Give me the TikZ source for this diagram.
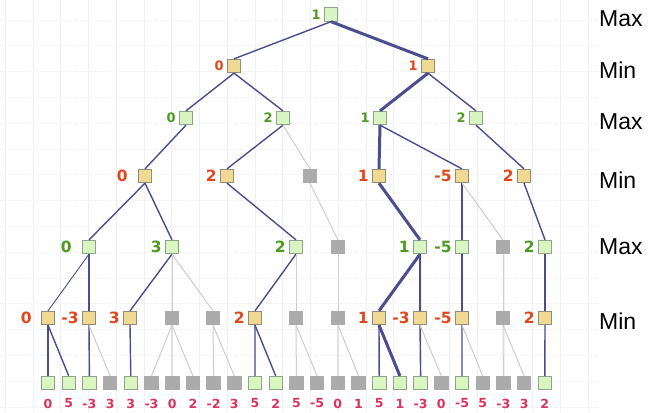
\documentclass[tikz,border=0pt]{standalone}
\usepackage{fontspec}
\newfontfamily\valfont{DejaVu Sans}
\newfontfamily\lvlfont{Liberation Sans}
\definecolor{edgeblue}{HTML}{4A4E8E}
\definecolor{edgegray}{HTML}{CDCDCD}
\definecolor{maxfill}{HTML}{D9F5C2}
\definecolor{maxdraw}{HTML}{8FA58A}
\definecolor{minfill}{HTML}{F0D992}
\definecolor{mindraw}{HTML}{938C7A}
\definecolor{cutfill}{HTML}{ABABAB}
\definecolor{maxtxt}{HTML}{4E9A1E}
\definecolor{mintxt}{HTML}{E2471B}
\definecolor{leaftxt}{HTML}{D9335E}
\definecolor{gridc}{HTML}{EDF0F7}
\tikzset{
  box/.style={rectangle, minimum size=13.5pt, inner sep=0pt, line width=0.8pt},
  maxbox/.style={box, fill=maxfill, draw=maxdraw},
  minbox/.style={box, fill=minfill, draw=mindraw},
  cutbox/.style={box, fill=cutfill, draw=cutfill},
  lblbase/.style={inner sep=0pt, font=\valfont\bfseries\fontsize{15.5}{15.5}\selectfont},
  lblsmall/.style={inner sep=0pt, font=\valfont\bfseries\fontsize{13}{13}\selectfont},
  maxlbl/.style={lblbase, text=maxtxt},
  minlbl/.style={lblbase, text=mintxt},
  maxlbls/.style={lblsmall, text=maxtxt},
  minlbls/.style={lblsmall, text=mintxt},
  leaflbl/.style={inner sep=0pt, text=leaftxt, font=\valfont\bfseries\fontsize{12.5}{12.5}\selectfont},
  level/.style={anchor=west, inner sep=0pt, font=\lvlfont\fontsize{23}{23}\selectfont},
  blueedge/.style={draw=edgeblue, line width=1.4pt},
  thinedge/.style={draw=edgeblue, line width=0.9pt},
  boldedge/.style={draw=edgeblue, line width=3pt},
  grayedge/.style={draw=edgegray, line width=1pt},
  gridv/.style={draw=gridc, line width=0.7pt},
  gridh/.style={draw=gridc, line width=0.8pt, dash pattern=on 1.5pt off 1pt},
}
\begin{document}
\begin{tikzpicture}[x=1pt, y=-1pt, label distance=3pt]
\useasboundingbox (0,0) rectangle (658,412);
\fill[white] (0,0) rectangle (658,412);
% faint background grid
\foreach \k in {0,...,21} \draw[gridv] ({5.3+27.75*\k},0) -- ({5.3+27.75*\k},412);
\foreach \k in {0,...,16} \draw[gridh] (0,{-5.8+25.8*\k}) -- (600,{-5.8+25.8*\k});

% level captions
\node[level] (cap0) at (599,19) {Max};
\node[level] (cap1) at (599,70) {Min};
\node[level] (cap2) at (599,122) {Max};
\node[level] (cap3) at (599,180) {Min};
\node[level] (cap4) at (599,247) {Max};
\node[level] (cap5) at (599,321) {Min};

% root and upper levels
\node[maxbox, label={[maxlbls]left:1}] (r) at (331,14.5) {};
\node[minbox, label={[minlbls]left:0}] (a) at (234,66) {};
\node[minbox, label={[minlbls]left:1}] (b) at (428,66) {};
\node[maxbox, label={[maxlbls]left:0}] (aa) at (186,118) {};
\node[maxbox, label={[maxlbls]left:2}] (ab) at (283,118) {};
\node[maxbox, label={[maxlbls]left:1}] (ba) at (380,118) {};
\node[maxbox, label={[maxlbls]left:2}] (bb) at (476,118) {};

% min level
\node[minbox, label={[minlbl, xshift=-7pt]left:0}] (c1) at (145,176) {};
\node[minbox, label={[minlbl]left:2}] (c2) at (227,176) {};
\node[cutbox] (c3) at (310,176) {};
\node[minbox, label={[minlbl]left:1}] (c4) at (379,176) {};
\node[minbox, label={[minlbl]left:-5}] (c5) at (462,176) {};
\node[minbox, label={[minlbl]left:2}] (c6) at (524,176) {};

% max level
\node[maxbox, label={[maxlbl, xshift=-7pt]left:0}] (d1) at (89,247) {};
\node[maxbox, label={[maxlbl]left:3}] (d2) at (172,247) {};
\node[maxbox, label={[maxlbl]left:2}] (d3) at (296,247) {};
\node[cutbox] (d4) at (338,247) {};
\node[maxbox, label={[maxlbl]left:1}] (d5) at (420,247) {};
\node[maxbox, label={[maxlbl]left:-5}] (d6) at (462,247) {};
\node[cutbox] (d7) at (503,247) {};
\node[maxbox, label={[maxlbl]left:2}] (d8) at (545,247) {};

% min level above the leaves
\node[minbox, label={[minlbl, xshift=-6pt]left:0}] (e1) at (48,318) {};
\node[minbox, label={[minlbl]left:-3}] (e2) at (89,318) {};
\node[minbox, label={[minlbl]left:3}] (e3) at (130,318) {};
\node[cutbox] (e4) at (172,318) {};
\node[cutbox] (e5) at (213,318) {};
\node[minbox, label={[minlbl]left:2}] (e6) at (255,318) {};
\node[cutbox] (e7) at (296,318) {};
\node[cutbox] (e8) at (338,318) {};
\node[minbox, label={[minlbl]left:1}] (e9) at (379,318) {};
\node[minbox, label={[minlbl]left:-3}] (e10) at (420,318) {};
\node[minbox, label={[minlbl]left:-5}] (e11) at (462,318) {};
\node[cutbox] (e12) at (503,318) {};
\node[minbox, label={[minlbl]left:2}] (e13) at (545,318) {};

% leaves with their values
\foreach \v/\t [count=\i from 0] in {0/maxbox,5/maxbox,-3/maxbox,3/cutbox,3/maxbox,-3/cutbox,0/cutbox,2/cutbox,-2/cutbox,3/cutbox,5/maxbox,2/maxbox,5/cutbox,-5/cutbox,0/cutbox,1/cutbox,5/maxbox,1/maxbox,-3/maxbox,0/cutbox,-5/maxbox,5/cutbox,-3/cutbox,3/cutbox,2/maxbox}{
  \node[\t] (l\i) at ({48+20.7*\i},383) {};
  \node[leaflbl] (v\i) at ({48+20.7*\i},403.5) {\v};
}

% connectors
\foreach \p/\c in {r/a, a/aa, a/ab, b/bb, aa/c1, ab/c2, ba/c5, bb/c6,
  c1/d1, c1/d2, c2/d3, c5/d6, c6/d8, d1/e2, d2/e3, d3/e6, d5/e10,
  d6/e11, d8/e13, e1/l0, e1/l1, e2/l2, e3/l4, e6/l10, e6/l11, e9/l16,
  e10/l18, e11/l20, e13/l24}
  \draw[blueedge] (\p.south) -- (\c.north);
\draw[thinedge] (d1.south) -- (e1.north);
\foreach \p/\c in {r/b, b/ba, ba/c4, c4/d5, d5/e9, e9/l17}
  \draw[boldedge] (\p.south) -- (\c.north);
\foreach \p/\c in {ab/c3, c3/d4, c5/d7, d2/e4, d2/e5, d3/e7, d4/e8, d7/e12,
  e2/l3, e4/l5, e4/l6, e4/l7, e5/l8, e5/l9, e7/l12, e7/l13, e8/l14, e8/l15,
  e10/l19, e11/l21, e12/l22, e12/l23}
  \draw[grayedge] (\p.south) -- (\c.north);
\end{tikzpicture}
\end{document}
